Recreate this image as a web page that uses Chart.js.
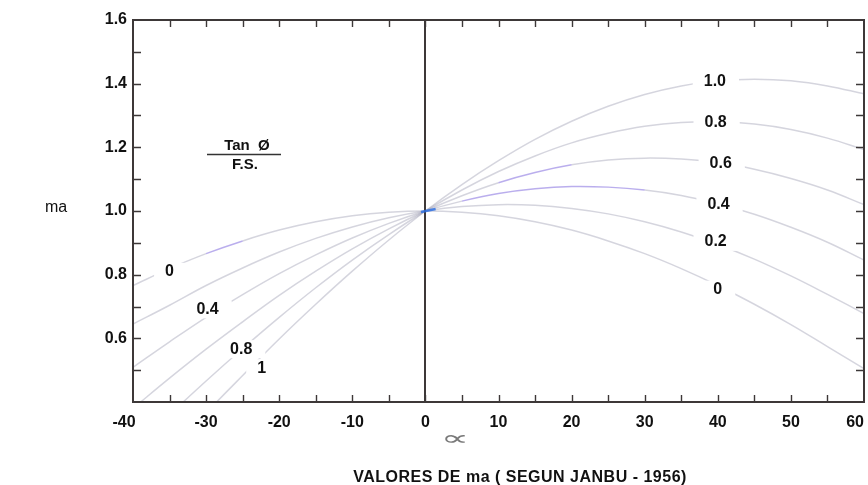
<!DOCTYPE html>
<html>
<head>
<meta charset="utf-8">
<title>Valores de ma - Janbu 1956</title>
<script src="https://cdn.jsdelivr.net/npm/chart.js@4.4.1/dist/chart.umd.min.js"></script>
<style>
	html, body { margin: 0; padding: 0; background: #fff; }
	canvas { display: block; }
</style>
</head>
<body>
<canvas id="graficoMa" width="868" height="485"></canvas>
<script>
// angulo alfa (grados)
var alfas = [-40, -35, -30, -25, -20, -15, -10, -5, 0, 5, 10, 15, 20, 25, 30, 35, 40, 45, 50, 55, 60];

// ma para cada valor de Tan O / F.S.
var ma00 = [0.766, 0.819, 0.866, 0.906, 0.940, 0.966, 0.985, 0.996, 1.000, 0.996, 0.985, 0.966, 0.940, 0.906, 0.866, 0.819, 0.766, 0.707, 0.643, 0.574, 0.505];
var ma02 = [0.645, 0.704, 0.766, 0.821, 0.871, 0.914, 0.950, 0.979, 1.000, 1.014, 1.020, 1.018, 1.008, 0.991, 0.966, 0.934, 0.895, 0.849, 0.796, 0.738, 0.678];
var ma04 = [0.509, 0.589, 0.666, 0.737, 0.803, 0.862, 0.915, 0.961, 1.000, 1.031, 1.055, 1.070, 1.077, 1.075, 1.066, 1.049, 1.023, 0.990, 0.949, 0.902, 0.846];
var ma06 = [0.380, 0.475, 0.566, 0.652, 0.735, 0.811, 0.881, 0.944, 1.000, 1.048, 1.089, 1.121, 1.145, 1.160, 1.166, 1.163, 1.152, 1.131, 1.102, 1.066, 1.020];
var ma08 = [0.252, 0.360, 0.466, 0.568, 0.666, 0.759, 0.846, 0.926, 1.000, 1.066, 1.124, 1.173, 1.214, 1.244, 1.266, 1.278, 1.280, 1.273, 1.256, 1.229, 1.193];
var ma10 = [0.123, 0.245, 0.366, 0.483, 0.598, 0.707, 0.811, 0.909, 1.000, 1.083, 1.158, 1.225, 1.282, 1.329, 1.366, 1.393, 1.409, 1.414, 1.409, 1.393, 1.368];

var curvas = [ma00, ma02, ma04, ma06, ma08, ma10];

// etiquetas de cada curva
var etiquetasDerecha = ['0', '0.2', '0.4', '0.6', '0.8', '1.0'];
var etiquetasIzquierda = ['0', '0.4', '0.8', '1'];

// ubicacion de las etiquetas sobre las curvas (alfa, ma)
var posDerecha = [[40.0, 0.753], [39.7, 0.903], [40.1, 1.019], [40.4, 1.150], [39.7, 1.278], [39.6, 1.406]];
var posIzquierda = [[-35.0, 0.809], [-29.8, 0.691], [-25.2, 0.566], [-22.4, 0.506]];

// tramos con tinta violeta (desde alfa, hasta alfa) por curva
var tramosVioleta = [[-30, -25], null, [5, 30], [10, 20], null, null];

var FUENTE = '"Liberation Sans", Arial, sans-serif';
var GRIS = 'rgba(150, 150, 172, 0.40)';
var VIOLETA = 'rgba(140, 120, 225, 0.6)';
var ESPACIO = '\u2007\u2007';

function aPuntos(valores) {
	return alfas.map(function(a, i) {
		return { x: a, y: valores[i] };
	});
}

function colorTramo(tramo) {
	return function(ctx) {
		if (!tramo) return GRIS;
		var a = ctx.p0.parsed.x;
		return (a >= tramo[0] && a < tramo[1]) ? VIOLETA : GRIS;
	};
}

var marco = {
	id: 'marco',
	afterDatasetsDraw: function(chart) {
		var ctx = chart.ctx;
		var area = chart.chartArea;
		var x = chart.scales.x;
		var y = chart.scales.y;
		ctx.save();

		// etiquetas de las curvas, con fondo blanco que corta la linea
		ctx.font = 'bold 16px ' + FUENTE;
		ctx.textAlign = 'center';
		ctx.textBaseline = 'middle';
		function etiqueta(texto, pos) {
			var px = x.getPixelForValue(pos[0]);
			var py = y.getPixelForValue(pos[1]);
			var w = ctx.measureText(texto).width;
			ctx.fillStyle = '#fff';
			ctx.fillRect(px - w / 2 - 11, py - 9, w + 24, 18);
			ctx.fillStyle = '#111';
			ctx.fillText(texto, px, py);
		}
		etiquetasDerecha.forEach(function(t, i) { etiqueta(t, posDerecha[i]); });
		etiquetasIzquierda.forEach(function(t, i) { etiqueta(t, posIzquierda[i]); });

		// Tan O / F.S.
		ctx.font = 'bold 15px ' + FUENTE;
		ctx.fillStyle = '#111';
		ctx.fillText('Tan  Ø', 247, 146);
		ctx.fillText('F.S.', 245, 165);
		ctx.strokeStyle = '#333';
		ctx.lineWidth = 1.5;
		ctx.beginPath();
		ctx.moveTo(207, 154.5);
		ctx.lineTo(281, 154.5);
		ctx.stroke();

		// marcas hacia adentro
		ctx.strokeStyle = '#3d3838';
		ctx.lineWidth = 1.4;
		ctx.beginPath();
		x.ticks.forEach(function(t) {
			var px = Math.round(x.getPixelForValue(t.value)) + 0.5;
			if (px < area.left + 3 || px > area.right - 3) return;
			ctx.moveTo(px, area.bottom);
			ctx.lineTo(px, area.bottom - 7);
			ctx.moveTo(px, area.top);
			ctx.lineTo(px, area.top + 7);
		});
		y.ticks.forEach(function(t) {
			var py = Math.round(y.getPixelForValue(t.value)) + 0.5;
			if (py < area.top + 3 || py > area.bottom - 3) return;
			ctx.moveTo(area.left, py);
			ctx.lineTo(area.left + 8, py);
			ctx.moveTo(area.right, py);
			ctx.lineTo(area.right - 8, py);
		});
		ctx.stroke();

		// linea vertical en alfa = 0
		var x0 = Math.round(x.getPixelForValue(0));
		ctx.lineWidth = 2;
		ctx.beginPath();
		ctx.moveTo(x0, area.top);
		ctx.lineTo(x0, area.bottom);
		ctx.stroke();

		// punto azul donde se juntan las curvas
		ctx.strokeStyle = 'rgba(40, 110, 230, 0.8)';
		ctx.lineWidth = 2.5;
		ctx.beginPath();
		ctx.moveTo(x.getPixelForValue(-0.6), y.getPixelForValue(0.997));
		ctx.lineTo(x.getPixelForValue(1.4), y.getPixelForValue(1.006));
		ctx.stroke();

		// recuadro
		ctx.strokeStyle = '#3d3838';
		ctx.lineWidth = 2;
		ctx.strokeRect(area.left, area.top, area.right - area.left, area.bottom - area.top);

		// titulos
		ctx.fillStyle = '#111';
		ctx.font = '16px ' + FUENTE;
		ctx.fillText('ma', 56, 208);
		ctx.font = 'bold 16px ' + FUENTE;
		ctx.letterSpacing = '0.5px';
		ctx.fillText('VALORES DE ma ( SEGUN JANBU - 1956)', 520, 478);
		ctx.letterSpacing = '0px';
		ctx.fillStyle = '#7a7a7a';
		ctx.font = '34px "DejaVu Sans"';
		ctx.translate(455, 440);
		ctx.scale(1.15, 0.6);
		ctx.fillText('∝', 0, 0);
		ctx.restore();
	}
};

var graficoMa = new Chart(document.getElementById('graficoMa').getContext('2d'), {
	type: 'line',
	data: {
		datasets: curvas.map(function(valores, i) {
			return {
				data: aPuntos(valores),
				borderColor: GRIS,
				borderWidth: 1.5,
				pointRadius: 0,
				tension: 0.4,
				fill: false,
				segment: { borderColor: colorTramo(tramosVioleta[i]) }
			};
		})
	},
	options: {
		responsive: false,
		animation: false,
		devicePixelRatio: 1,
		layout: { padding: { top: 20, right: 4, left: 0, bottom: 0 } },
		plugins: {
			legend: { display: false },
			tooltip: { enabled: false }
		},
		scales: {
			x: {
				type: 'linear',
				min: -40,
				max: 60,
				grid: { display: false, drawTicks: false },
				border: { display: false },
				ticks: {
					stepSize: 5,
					autoSkip: false,
					maxRotation: 0,
					padding: 11,
					color: '#111',
					font: { family: FUENTE, size: 16, weight: 'bold' },
					callback: function(v) {
						if (v % 10 !== 0) return '';
						// los extremos se corren hacia la izquierda
						return (v === -40 || v === 60) ? String(v) + ESPACIO : String(v);
					}
				},
				afterFit: function(escala) {
					escala.height = 83;
					escala.paddingLeft = 0;
					escala.paddingRight = 0;
				}
			},
			y: {
				type: 'linear',
				min: 0.4,
				max: 1.6,
				grid: { display: false, drawTicks: false },
				border: { display: false },
				ticks: {
					stepSize: 0.1,
					autoSkip: false,
					padding: 6,
					color: '#111',
					font: { family: FUENTE, size: 16, weight: 'bold' },
					callback: function(v) {
						var d = Math.round(v * 10);
						return (d % 2 === 0 && d > 4) ? (d / 10).toFixed(1) : '';
					}
				},
				afterFit: function(escala) {
					escala.width = 133;
				}
			}
		}
	},
	plugins: [marco]
});
</script>
</body>
</html>
